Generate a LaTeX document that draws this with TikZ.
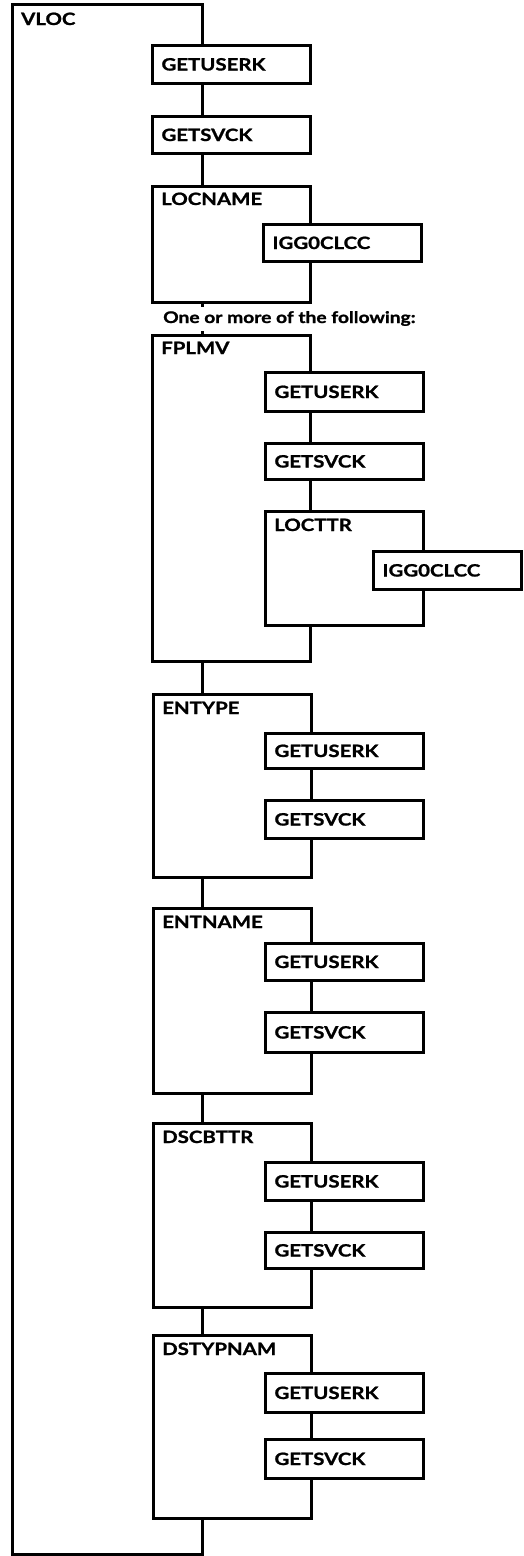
\documentclass[tikz,border=0pt]{standalone}
\usepackage{fontspec}
\setmainfont{Lato}[FakeStretch=1.2, BoldFeatures={FakeBold=1.2}]
\usetikzlibrary{calc}
\tikzset{
  ln/.style={line width=3pt, line cap=rect, line join=miter},
  txt/.style={font=\fontsize{17}{20}\selectfont\bfseries},
  leaf/.style={ln, draw, fill=white, anchor=north west, outer sep=0pt, inner sep=0pt,
    minimum width=158pt, minimum height=38pt, txt, text height=13pt, text depth=0pt,
    text width=139pt, align=left},
  pbox/.style={anchor=north west, outer sep=0pt, inner sep=0pt},
  lbl/.style={txt, anchor=base west, inner sep=0pt},
}
\begin{document}
\begin{tikzpicture}[x=1pt,y=-1pt]
\useasboundingbox (0,0) rectangle (523,1556);
% ---------- top level
\node[pbox, minimum width=190pt, minimum height=1550pt] (vloc) at (12,4) {};
\draw[ln] (vloc.north east) -- (vloc.north west) -- (vloc.south west) -- (vloc.south east);
\node[lbl] (vloclbl) at ($(vloc.north west)+(9,21)$) {VLOC};
% ---------- level 1
\node[leaf] (g1) at (152,45) {GETUSERK};
\node[leaf, minimum height=37pt] (s1) at (152,116) {GETSVCK};
\node[pbox, minimum width=158pt, minimum height=116pt] (locname) at (152,186) {};
\node[lbl] (locnamelbl) at ($(locname.north west)+(9,19)$) {LOCNAME};
\node[leaf, minimum height=37pt] (igga) at (263,224) {IGG0CLCC};
\node[lbl, font=\fontsize{16}{19}\selectfont\bfseries] (more) at (163,323) {One or more of the following:};
\node[pbox, minimum width=158pt, minimum height=326pt] (fplmv) at (152,335) {};
\node[lbl] (fplmvlbl) at ($(fplmv.north west)+(9,19)$) {FPLMV};
\node[leaf, minimum height=39pt] (g2) at (265,372) {GETUSERK};
\node[leaf, minimum height=36pt] (s2) at (265,443) {GETSVCK};
\node[pbox, minimum width=158pt, minimum height=114pt] (locttr) at (265,511) {};
\node[lbl] (locttrlbl) at ($(locttr.north west)+(9,20)$) {LOCTTR};
\node[leaf, minimum width=148pt, minimum height=38pt, text width=129pt] (iggb) at (373,551) {IGG0CLCC};
\node[pbox, minimum width=158pt, minimum height=183pt] (entype) at (153,694) {};
\node[lbl] (entypelbl) at ($(entype.north west)+(9,20)$) {ENTYPE};
\node[leaf, minimum height=35pt] (g3) at (265,733) {GETUSERK};
\node[leaf, minimum height=38pt] (s3) at (265,800) {GETSVCK};
\node[pbox, minimum width=158pt, minimum height=185pt] (entname) at (153,908) {};
\node[lbl] (entnamelbl) at ($(entname.north west)+(9,20)$) {ENTNAME};
\node[leaf, minimum height=37pt] (g4) at (265,943) {GETUSERK};
\node[leaf, minimum height=40pt] (s4) at (265,1012) {GETSVCK};
\node[pbox, minimum width=158pt, minimum height=184pt] (dscbttr) at (153,1123) {};
\node[lbl] (dscbttrlbl) at ($(dscbttr.north west)+(9,20)$) {DSCBTTR};
\node[leaf, minimum height=38pt] (g5) at (265,1162) {GETUSERK};
\node[leaf, minimum height=36pt] (s5) at (265,1232) {GETSVCK};
\node[pbox, minimum width=158pt, minimum height=183pt] (dstypnam) at (153,1335) {};
\node[lbl] (dstypnamlbl) at ($(dstypnam.north west)+(9,20)$) {DSTYPNAM};
\node[leaf, minimum height=39pt] (g6) at (265,1373) {GETUSERK};
\node[leaf, minimum height=39pt] (s6) at (265,1439) {GETSVCK};
% ---------- parent outlines
\foreach \p in {locname,fplmv,locttr,entype,entname,dscbttr,dstypnam}
  \draw[ln] (\p.north east) -- (\p.north west) -- (\p.south west) -- (\p.south east);
% ---------- VLOC chain (right edge)
\draw[ln] (vloc.north east) -- (vloc.north east |- g1.north);
\draw[ln] (vloc.north east |- g1.south) -- (vloc.north east |- s1.north);
\draw[ln] (vloc.north east |- s1.south) -- (vloc.north east |- locname.north);
\draw[ln] (vloc.north east |- locname.south) -- ++(0,3);
\draw[ln] (vloc.north east |- fplmv.north) -- ++(0,-3);
\draw[ln] (vloc.north east |- fplmv.south) -- (vloc.north east |- entype.north);
\draw[ln] (vloc.north east |- entype.south) -- (vloc.north east |- entname.north);
\draw[ln] (vloc.north east |- entname.south) -- (vloc.north east |- dscbttr.north);
\draw[ln] (vloc.north east |- dscbttr.south) -- (vloc.north east |- dstypnam.north);
\draw[ln] (vloc.north east |- dstypnam.south) -- (vloc.south east);
% ---------- LOCNAME chain
\draw[ln] (locname.north east) -- (locname.north east |- igga.north);
\draw[ln] (locname.north east |- igga.south) -- (locname.south east);
% ---------- FPLMV chain
\draw[ln] (fplmv.north east) -- (fplmv.north east |- g2.north);
\draw[ln] (fplmv.north east |- g2.south) -- (fplmv.north east |- s2.north);
\draw[ln] (fplmv.north east |- s2.south) -- (fplmv.north east |- locttr.north);
\draw[ln] (fplmv.north east |- locttr.south) -- (fplmv.south east);
% ---------- LOCTTR chain
\draw[ln] (locttr.north east) -- (locttr.north east |- iggb.north);
\draw[ln] (locttr.north east |- iggb.south) -- (locttr.south east);
% ---------- ENTYPE / ENTNAME / DSCBTTR / DSTYPNAM chains
\draw[ln] (entype.north east) -- (entype.north east |- g3.north);
\draw[ln] (entype.north east |- g3.south) -- (entype.north east |- s3.north);
\draw[ln] (entype.north east |- s3.south) -- (entype.south east);
\draw[ln] (entname.north east) -- (entname.north east |- g4.north);
\draw[ln] (entname.north east |- g4.south) -- (entname.north east |- s4.north);
\draw[ln] (entname.north east |- s4.south) -- (entname.south east);
\draw[ln] (dscbttr.north east) -- (dscbttr.north east |- g5.north);
\draw[ln] (dscbttr.north east |- g5.south) -- (dscbttr.north east |- s5.north);
\draw[ln] (dscbttr.north east |- s5.south) -- (dscbttr.south east);
\draw[ln] (dstypnam.north east) -- (dstypnam.north east |- g6.north);
\draw[ln] (dstypnam.north east |- g6.south) -- (dstypnam.north east |- s6.north);
\draw[ln] (dstypnam.north east |- s6.south) -- (dstypnam.south east);
\end{tikzpicture}
\end{document}
